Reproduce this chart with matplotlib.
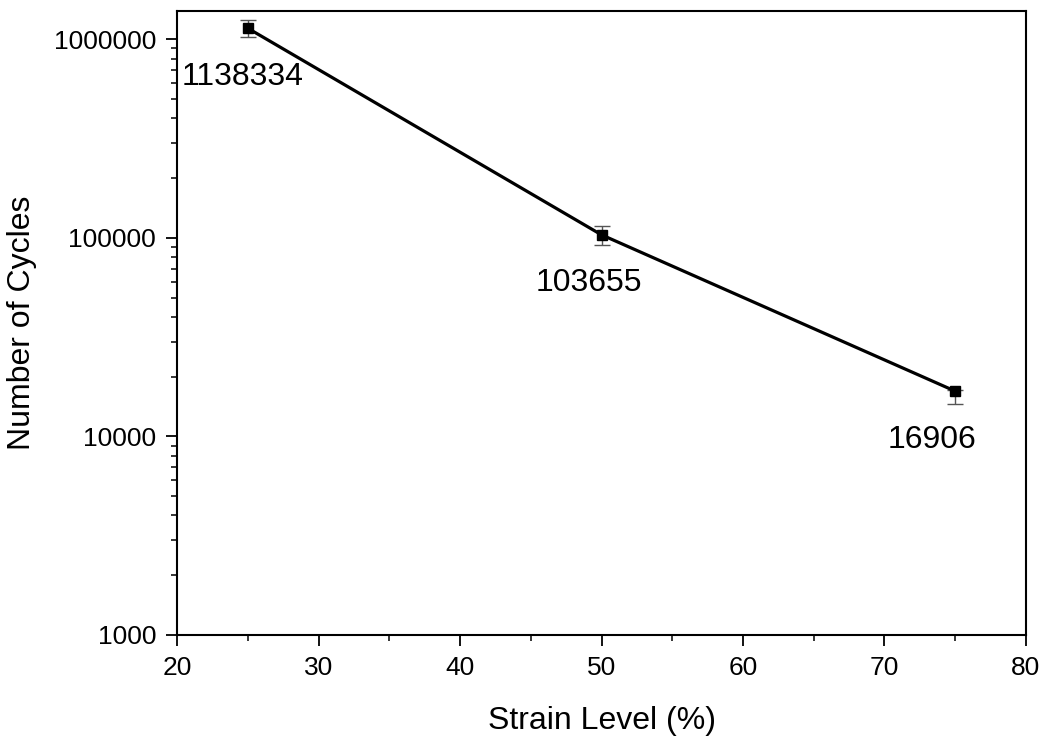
import numpy as np
import matplotlib.pyplot as plt
import matplotlib as mpl
from matplotlib.ticker import LogLocator, FixedLocator, NullFormatter, FuncFormatter

mpl.rcParams['font.family'] = ['Liberation Sans', 'DejaVu Sans']

strain = [25, 50, 75]
cycles = [1138334, 103655, 16906]
err_low = [112000, 12000, 2400]
err_high = [109000, 11800, 300]
point_labels = ["1138334", "103655", "16906"]
label_offsets = [(-4, -35), (-9, -35), (-17, -35)]

fig = plt.figure(figsize=(10.45, 7.38), dpi=100)
ax = fig.add_axes([0.1694, 0.1396, 0.8124, 0.8455])

ax.errorbar(strain, cycles, yerr=[err_low, err_high], fmt='none',
            ecolor='#555555', elinewidth=1.0, capsize=6, capthick=1.0, zorder=2)
ax.plot(strain, cycles, color='black', linewidth=2.3, marker='s',
        markersize=6.5, zorder=3)

for x, y, txt, off in zip(strain, cycles, point_labels, label_offsets):
    ax.annotate(txt, (x, y), xytext=off, textcoords='offset points',
                ha='center', va='center', fontsize=23)

ax.set_yscale('log')
ax.set_xlim(20, 80)
ax.set_ylim(1000, 1.39e6)
ax.xaxis.set_major_locator(FixedLocator([20, 30, 40, 50, 60, 70, 80]))
ax.xaxis.set_minor_locator(FixedLocator([25, 35, 45, 55, 65, 75]))
ax.yaxis.set_major_locator(LogLocator(base=10, numticks=10))
ax.yaxis.set_minor_locator(LogLocator(base=10, subs=np.arange(2, 10), numticks=10))
ax.yaxis.set_major_formatter(FuncFormatter(lambda v, p: f"{int(round(v))}"))
ax.yaxis.set_minor_formatter(NullFormatter())

for s in ax.spines.values():
    s.set_linewidth(1.5)
ax.tick_params(which='major', direction='out', length=8, width=1.3,
               labelsize=19, pad=7)
ax.tick_params(which='minor', direction='out', length=4.5, width=1.1)

ax.set_xlabel('Strain Level (%)', fontsize=23, labelpad=19)
ax.set_ylabel('Number of Cycles', fontsize=23, labelpad=12)

fig.savefig('out.png', dpi=100)
